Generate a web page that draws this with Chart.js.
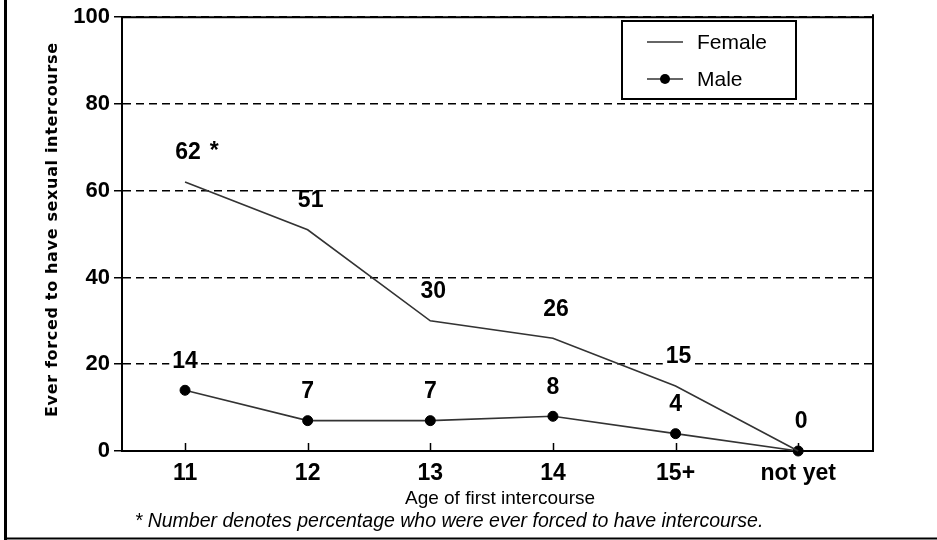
<!DOCTYPE html>
<html>
<head>
<meta charset="utf-8">
<script src="https://cdn.jsdelivr.net/npm/chart.js@4.4.1/dist/chart.umd.min.js"></script>
<style>
html, body { margin: 0; padding: 0; background: #fff; }
#wrap { width: 937px; height: 540px; position: relative; }
</style>
</head>
<body>
<div id="wrap"><canvas id="myChart"></canvas></div>
<script>
var categories = ['11', '12', '13', '14', '15+', 'not yet'];
var female = [62, 51, 30, 26, 15, 0];
var male = [14, 7, 7, 8, 4, 0];
var femaleNotes = ['*', '', '', '', '', ''];
var yTicks = [0, 20, 40, 60, 80, 100];
var yTitle = 'Ever forced to have sexual intercourse';
var xTitle = 'Age of first intercourse';
var footnote = '* Number denotes percentage who were ever forced to have intercourse.';

var FONT = '"Liberation Sans", Arial, Helvetica, sans-serif';
var LINE = '#333';

function toPoints(values) {
  return values.map(function (v, i) { return { x: i, y: v }; });
}

function line(ctx, x1, y1, x2, y2) {
  ctx.beginPath();
  ctx.moveTo(x1, y1);
  ctx.lineTo(x2, y2);
  ctx.stroke();
}

// value labels above each point, with a white patch behind like the original
var valueLabels = {
  id: 'valueLabels',
  afterDatasetsDraw: function (chart) {
    var ctx = chart.ctx;
    var done = {};
    ctx.save();
    ctx.font = 'bold 23px ' + FONT;
    ctx.textAlign = 'center';
    ctx.textBaseline = 'middle';
    chart.data.datasets.forEach(function (ds, di) {
      var meta = chart.getDatasetMeta(di);
      var dx = ds.labelShift || 0;
      meta.data.forEach(function (pt, i) {
        var key = i + ':' + ds.data[i].y;
        if (done[key]) return; // same value at same category: one label only
        done[key] = true;
        var txt = String(ds.data[i].y);
        var x = pt.x + dx, y = pt.y - 29;
        var w = ctx.measureText(txt).width;
        ctx.fillStyle = '#fff';
        ctx.fillRect(x - w / 2 - 3, y - 9, w + 6, 18);
        ctx.fillStyle = '#000';
        ctx.fillText(txt, x, y);
        if (ds.notes && ds.notes[i]) {
          ctx.textAlign = 'left';
          ctx.fillText(ds.notes[i], x + w / 2 + 9, y - 1);
          ctx.textAlign = 'center';
        }
      });
    });
    ctx.restore();
  }
};

var decorations = {
  id: 'decorations',
  beforeDatasetsDraw: function (chart) {
    var ctx = chart.ctx, a = chart.chartArea, xs = chart.scales.x;
    ctx.save();
    ctx.strokeStyle = '#000';
    // solid top and right of the plot
    ctx.lineWidth = 2;
    line(ctx, a.left, a.top, a.right, a.top);
    line(ctx, a.right, a.top - 3, a.right, a.bottom);
    // inward tick marks on the x axis
    ctx.lineWidth = 1.5;
    categories.forEach(function (c, i) {
      var x = Math.round(xs.getPixelForValue(i)) + 0.5;
      line(ctx, x, a.bottom - 8, x, a.bottom);
    });
    ctx.restore();
  },
  afterDraw: function (chart) {
    var ctx = chart.ctx;
    ctx.save();
    ctx.strokeStyle = '#000';

    // page frame (left and bottom)
    ctx.lineWidth = 3;
    line(ctx, 5.5, 0, 5.5, 540);
    ctx.lineWidth = 2;
    line(ctx, 4, 538.5, 937, 538.5);

    // y title
    ctx.fillStyle = '#000';
    ctx.font = 'bold 16px "DejaVu Sans", ' + FONT;
    var w = ctx.measureText(yTitle).width;
    var sp = (374 - w) / (yTitle.length - 1);
    ctx.save();
    ctx.translate(53, 230);
    ctx.rotate(-Math.PI / 2);
    ctx.textAlign = 'left';
    ctx.textBaseline = 'middle';
    var total = w;
    if ('letterSpacing' in ctx) {
      ctx.letterSpacing = sp + 'px';
      total = w + sp * (yTitle.length - 1);
    }
    ctx.fillText(yTitle, -total / 2, 0);
    ctx.restore();

    // x title and footnote
    ctx.textAlign = 'center';
    ctx.textBaseline = 'alphabetic';
    ctx.font = '19px ' + FONT;
    ctx.fillText(xTitle, 500, 504);
    ctx.font = 'italic 19.5px ' + FONT;
    ctx.fillText(footnote, 449, 527);

    // legend box
    var bx = 622, by = 21, bw = 174, bh = 78;
    ctx.fillStyle = '#fff';
    ctx.fillRect(bx, by, bw, bh);
    ctx.lineWidth = 2;
    ctx.strokeRect(bx, by, bw, bh);
    ctx.font = '21px ' + FONT;
    ctx.textAlign = 'left';
    ctx.textBaseline = 'middle';
    chart.data.datasets.forEach(function (ds, i) {
      var ly = 42 + i * 37;
      ctx.strokeStyle = ds.borderColor;
      ctx.lineWidth = 1.5;
      line(ctx, 647, ly, 683, ly);
      if (ds.pointRadius > 0) {
        ctx.fillStyle = ds.pointBackgroundColor;
        ctx.beginPath();
        ctx.arc(665, ly, ds.pointRadius, 0, Math.PI * 2);
        ctx.fill();
      }
      ctx.fillStyle = '#000';
      ctx.fillText(ds.label, 697, ly + 1);
    });
    ctx.restore();
  }
};

var config = {
  type: 'line',
  data: {
    datasets: [
      {
        label: 'Female',
        data: toPoints(female),
        notes: femaleNotes,
        labelShift: 3,
        borderColor: LINE,
        borderWidth: 1.6,
        pointRadius: 0,
        pointHoverRadius: 0,
        clip: false,
        fill: false
      },
      {
        label: 'Male',
        data: toPoints(male),
        borderColor: LINE,
        borderWidth: 1.6,
        pointRadius: 5,
        pointHoverRadius: 5,
        pointBackgroundColor: '#000',
        pointBorderColor: '#000',
        pointBorderWidth: 1,
        clip: false,
        fill: false
      }
    ]
  },
  options: {
    responsive: true,
    maintainAspectRatio: false,
    animation: false,
    layout: { padding: { top: 16, right: 64, left: 0, bottom: 0 } },
    plugins: {
      legend: { display: false },
      tooltip: { enabled: false }
    },
    scales: {
      x: {
        type: 'linear',
        min: -0.514,
        max: 5.61,
        afterFit: function (s) { s.height = 89; },
        afterBuildTicks: function (s) {
          s.ticks = categories.map(function (c, i) { return { value: i }; });
        },
        ticks: {
          autoSkip: false,
          maxRotation: 0,
          padding: 9,
          color: '#000',
          font: { family: FONT, size: 23, weight: 'bold' },
          callback: function (v) { return categories[v]; }
        },
        grid: { display: true, drawOnChartArea: false, drawTicks: false },
        border: { color: '#000', width: 2 }
      },
      y: {
        min: 0,
        max: 100,
        afterFit: function (s) { s.width = 122; },
        afterBuildTicks: function (s) {
          s.ticks = yTicks.map(function (v) { return { value: v }; });
        },
        ticks: {
          padding: 4,
          color: '#000',
          font: { family: FONT, size: 22, weight: 'bold' }
        },
        grid: {
          color: '#000',
          lineWidth: 1.5,
          tickLength: 8,
          tickColor: '#000',
          tickWidth: 1.5
        },
        border: { color: '#000', width: 2, dash: [8, 5] }
      }
    }
  },
  plugins: [valueLabels, decorations]
};

var ctx = document.getElementById('myChart').getContext('2d');
var myChart = new Chart(ctx, config);
</script>
</body>
</html>
